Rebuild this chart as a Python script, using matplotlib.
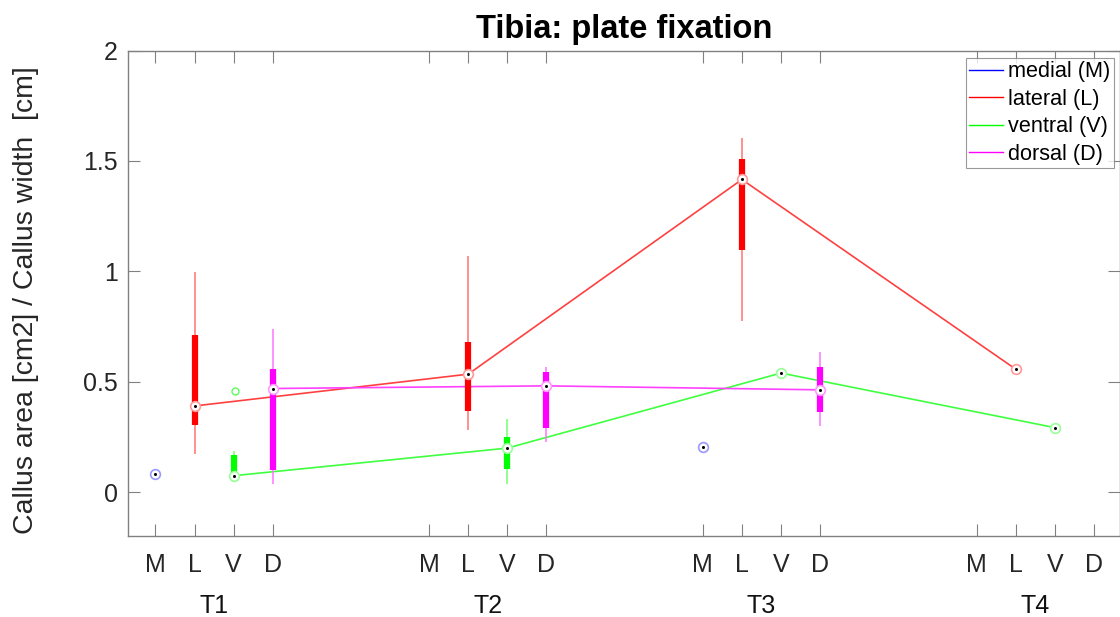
import numpy as np
import matplotlib
matplotlib.use("Agg")
import matplotlib.pyplot as plt
from matplotlib.lines import Line2D

plt.rcParams['font.family'] = ['Liberation Sans', 'DejaVu Sans']

# ---------------- data ----------------
groups = ['T1', 'T2', 'T3', 'T4']
regions = ['M', 'L', 'V', 'D']
region_names = ['medial (M)', 'lateral (L)', 'ventral (V)', 'dorsal (D)']
region_colors = ['#0000ff', '#ff0000', '#00ff00', '#ff00ff']
nan = np.nan

# medians per region across T1..T4
median_M = [0.081, nan, 0.206, nan]
median_L = [0.390, 0.534, 1.416, 0.557]
median_V = [0.074, 0.199, 0.539, 0.292]
median_D = [0.469, 0.481, 0.463, nan]

# lower / upper quartiles
q1_M = [nan, nan, nan, nan]
q3_M = [nan, nan, nan, nan]
q1_L = [0.305, 0.369, 1.096, nan]
q3_L = [0.710, 0.681, 1.511, nan]
q1_V = [0.074, 0.104, nan, nan]
q3_V = [0.169, 0.249, nan, nan]
q1_D = [0.098, 0.290, 0.362, nan]
q3_D = [0.558, 0.543, 0.566, nan]

# whisker ends
wlo_M = [nan, nan, nan, nan]
whi_M = [nan, nan, nan, nan]
wlo_L = [0.172, 0.282, 0.775, nan]
whi_L = [0.998, 1.069, 1.606, nan]
wlo_V = [0.045, 0.038, nan, nan]
whi_V = [0.187, 0.330, nan, nan]
wlo_D = [0.038, 0.228, 0.301, nan]
whi_D = [0.739, 0.567, 0.633, nan]

# outliers: (region, group, value)
outlier_region = ['V']
outlier_group = ['T1']
outlier_value = [0.458]

medians = [median_M, median_L, median_V, median_D]
q1s = [q1_M, q1_L, q1_V, q1_D]
q3s = [q3_M, q3_L, q3_V, q3_D]
wlos = [wlo_M, wlo_L, wlo_V, wlo_D]
whis = [whi_M, whi_L, whi_V, whi_D]

# ---------------- layout ----------------
group_step = 7
def xpos(g, r):
    return 1 + g * group_step + r

def lighten(c, f):
    rgb = np.array(matplotlib.colors.to_rgb(c))
    return tuple(rgb + (1 - rgb) * f)

fig = plt.figure(figsize=(11.2, 6.17), dpi=100)
ax = fig.add_axes([0.114, 0.131, 0.886, 0.787])

for ri, (r, col) in enumerate(zip(regions, region_colors)):
    xs = [xpos(g, ri) for g in range(len(groups))]
    med = np.array(medians[ri], dtype=float)
    # connecting line of medians
    ax.plot(xs, med, color=lighten(col, 0.25), lw=1.2, zorder=2)
    for g in range(len(groups)):
        x = xs[g]
        if not np.isnan(wlos[ri][g]):
            ax.plot([x, x], [wlos[ri][g], whis[ri][g]], color=lighten(col, 0.45),
                    lw=1.1, zorder=3, solid_capstyle='butt')
        if not np.isnan(q1s[ri][g]):
            ax.plot([x, x], [q1s[ri][g], q3s[ri][g]], color=col, lw=4.5,
                    zorder=4, solid_capstyle='butt')
        if not np.isnan(med[g]):
            ax.plot([x], [med[g]], marker='o', ms=7, mfc='white',
                    mec=lighten(col, 0.6), mew=1.2, zorder=5)
            ax.plot([x], [med[g]], marker='o', ms=2.2, mfc='black',
                    mec='black', mew=0, zorder=6)

for orr, og, ov in zip(outlier_region, outlier_group, outlier_value):
    ri = regions.index(orr)
    g = groups.index(og)
    col = region_colors[ri]
    ax.plot([xpos(g, ri) + 0.03], [ov], marker='o', ms=5, mfc='none',
            mec=lighten(col, 0.35), mew=1.0, zorder=5)

# axes limits / ticks
ax.set_xlim(0.29, 25.67)
ax.set_ylim(-0.2, 2)
ticks = [xpos(g, r) for g in range(len(groups)) for r in range(len(regions))]
ax.set_xticks(ticks)
ax.set_xticklabels(regions * len(groups), fontsize=18, color='#262626')
ax.set_yticks([0, 0.5, 1, 1.5, 2])
ax.set_yticklabels(['0', '0.5', '1', '1.5', '2'], fontsize=18, color='#262626')
ax.tick_params(direction='in', length=8.5, width=0.8, color='#808080',
               top=True, right=True)
ax.tick_params(axis='x', pad=12)
ax.tick_params(axis='y', pad=7)
for s in ax.spines.values():
    s.set_color('#808080')
    s.set_linewidth(1.0)

# group labels (second row)
for g, name in enumerate(groups):
    cx = xpos(g, 1.5)
    ax.annotate(name, xy=(cx, 0), xycoords=('data', 'axes fraction'),
                xytext=(0, -70), textcoords='offset pixels',
                ha='center', va='center', fontsize=18, color='#111111')

ax.set_title('Tibia: plate fixation', fontsize=23.5, fontweight='bold', pad=9)
ax.set_ylabel('Callus area [cm2] / Callus width  [cm]', fontsize=20.5,
              color='#262626')
ax.yaxis.set_label_coords(-0.089, 0.487)

handles = [Line2D([0], [0], color=c, lw=1.0) for c in region_colors]
leg = ax.legend(handles, region_names, loc='upper right', fontsize=15.6,
                frameon=True, fancybox=False, handlelength=1.55,
                handletextpad=0.25, labelspacing=0.3, borderpad=0.15,
                borderaxespad=0.0, bbox_to_anchor=(0.9935, 0.985))
leg.get_frame().set_edgecolor('#808080')
leg.get_frame().set_linewidth(0.8)

fig.savefig('out.png', dpi=100)
